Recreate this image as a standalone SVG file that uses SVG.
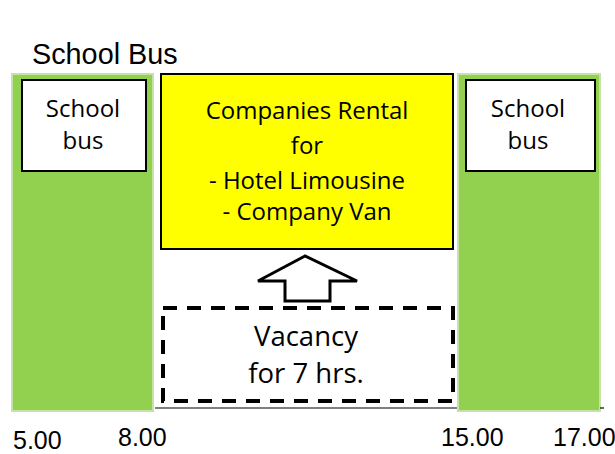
<svg xmlns="http://www.w3.org/2000/svg" width="615" height="454" viewBox="0 0 615 454">
<style>
.green{fill:#92D050;stroke:#C5E3A8;stroke-width:2}
.wbox{fill:#fff;stroke:#000;stroke-width:2}
.cal{font-family:"Open Sans","Liberation Sans",sans-serif;fill:#000;text-anchor:middle}
.ar{font-family:"Liberation Sans",Arial,sans-serif;fill:#000}
</style>
<rect width="615" height="454" fill="#fff"/>
<text class="ar" x="32" y="64" font-size="28.8">School Bus</text>
<g id="left-green">
<rect class="green" x="12" y="74" width="141" height="337"/>
</g>
<g id="left-bus">
<rect class="wbox" x="22" y="80" width="124" height="91"/>
<text class="cal" x="83" y="117" font-size="24">School</text>
<text class="cal" x="83" y="149" font-size="24">bus</text>
</g>
<g id="right-green">
<rect class="green" x="458" y="74" width="142" height="337"/>
</g>
<g id="right-bus">
<rect class="wbox" x="466" y="80" width="129" height="91"/>
<text class="cal" x="528" y="117" font-size="24">School</text>
<text class="cal" x="528" y="149" font-size="24">bus</text>
</g>
<g id="rental">
<rect x="161" y="74" width="292" height="175" fill="#FFFF00" stroke="#000" stroke-width="2"/>
<text class="cal" x="307" y="119" font-size="24">Companies Rental</text>
<text class="cal" x="307" y="154" font-size="24">for</text>
<text class="cal" x="307" y="189" font-size="24">- Hotel Limousine</text>
<text class="cal" x="307" y="220" font-size="24">- Company Van</text>
</g>
<g id="connectors">
<polygon points="305,256 258,281 285,281 285,301 330,301 330,281 357,281" fill="#fff" stroke="#000" stroke-width="3" stroke-linejoin="miter"/>
<line x1="155" y1="408" x2="457" y2="408" stroke="#000" stroke-width="1.2"/>
<line x1="600" y1="408" x2="604" y2="408" stroke="#000" stroke-width="1.2"/>
</g>
<g id="vacancy">
<rect x="163" y="308" width="290" height="93" fill="none" stroke="#000" stroke-width="4" stroke-dasharray="14,10"/>
<text class="cal" x="306" y="346" font-size="27.5">Vacancy</text>
<text class="cal" x="306" y="383" font-size="27.5">for 7 hrs.</text>
</g>
<g id="times">
<text class="ar" x="13" y="449" font-size="25">5.00</text>
<text class="ar" x="118" y="446" font-size="25">8.00</text>
<text class="ar" x="441" y="446" font-size="25">15.00</text>
<text class="ar" x="553" y="446" font-size="25">17.00</text>
</g>
</svg>
